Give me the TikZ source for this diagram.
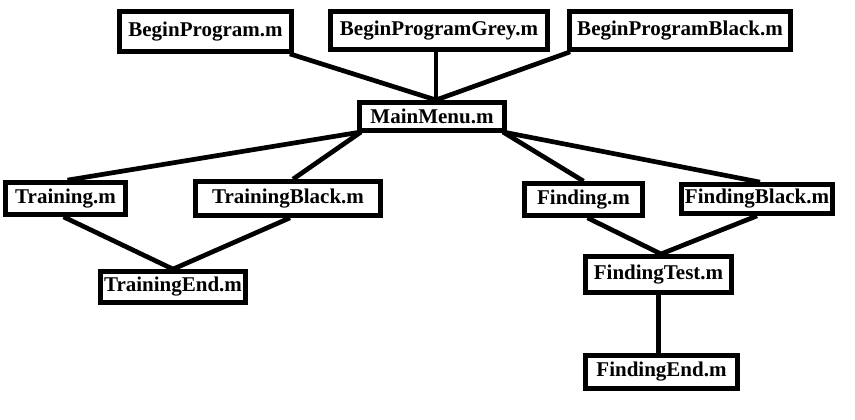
\documentclass[tikz,border=0pt]{standalone}
\usepackage{fontspec}
\setmainfont{Liberation Serif}
\usetikzlibrary{backgrounds}
\begin{document}
\begin{tikzpicture}[x=1pt,y=-1pt,
  filebox/.style={draw=black,line width=4.7pt,fill=white,inner sep=0pt,
    font=\fontsize{21}{24}\selectfont\bfseries},
  link/.style={draw=black,line width=4.7pt}]
\useasboundingbox (0,0) rectangle (855,420);
\node[filebox,minimum width=172pt,minimum height=40pt] (bp) at (205.5,31.5) {BeginProgram.m};
\node[filebox,minimum width=217pt,minimum height=38pt] (bpg) at (439,30.5) {BeginProgramGrey.m};
\node[filebox,minimum width=221pt,minimum height=38pt] (bpb) at (680,30.5) {BeginProgramBlack.m};
\node[filebox,minimum width=145pt,minimum height=28pt] (mm) at (432,116.5) {MainMenu.m};
\node[filebox,minimum width=120pt,minimum height=32pt] (tr) at (65.5,198.5) {Training.m};
\node[filebox,minimum width=185pt,minimum height=34pt] (trb) at (288,198.5) {TrainingBlack.m};
\node[filebox,minimum width=145pt,minimum height=31pt] (tre) at (173,287) {TrainingEnd.m};
\node[filebox,minimum width=118pt,minimum height=32pt] (fi) at (583.5,199.5) {Finding.m};
\node[filebox,minimum width=151pt,minimum height=29pt] (fib) at (757,199) {FindingBlack.m};
\node[filebox,minimum width=146pt,minimum height=36pt] (ft) at (658.5,274.5) {FindingTest.m};
\node[filebox,minimum width=152pt,minimum height=33pt] (fe) at (661.5,372) {FindingEnd.m};
\coordinate (mmtop) at (436,100);
\coordinate (mmbl) at (361,132);
\coordinate (mmbr) at (503,132);
\coordinate (fttop) at (661,254);
\begin{scope}[on background layer]
\fill[white] (0,0) rectangle (855,420);
\draw[link] ([xshift=-4pt]bp.south east) -- (mmtop);
\draw[link] (bpg.south -| mmtop) -- (mmtop);
\draw[link] ([xshift=3pt]bpb.south west) -- (mmtop);
\draw[link] (mmbl) -- ([xshift=2pt]tr.north);
\draw[link] (mmbl) -- ([xshift=5pt]trb.north);
\draw[link] ([xshift=-2pt]tr.south) -- (tre.north);
\draw[link] ([xshift=2pt]trb.south) -- (tre.north);
\draw[link] (mmbr) -- (fi.north);
\draw[link] (mmbr) -- ([xshift=3pt]fib.north);
\draw[link] ([xshift=4pt]fi.south) -- (fttop);
\draw[link] (fib.south) -- (fttop);
\draw[link] (ft.south) -- (ft.south |- fe.north);
\end{scope}
\end{tikzpicture}
\end{document}
